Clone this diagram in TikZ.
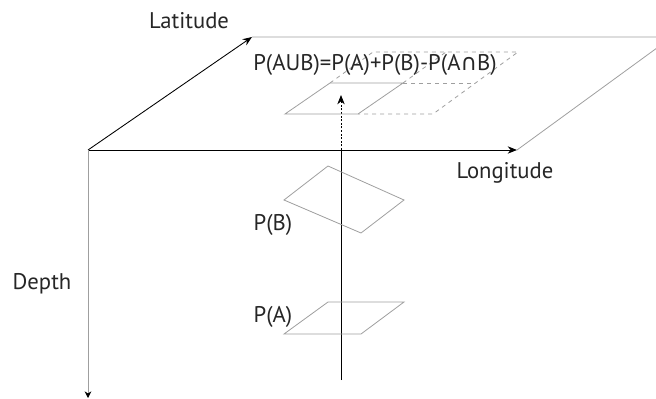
\documentclass[tikz,border=0pt]{standalone}
\usepackage{fontspec}
\setmainfont{PT Sans}
\newfontfamily\symfont{DejaVu Sans}
\usetikzlibrary{arrows.meta}

\begin{document}
\begin{tikzpicture}[x=0.75pt,y=-0.75pt,>={Stealth[length=7pt,width=5.5pt]},
  plane/.style={draw=gray!75,line width=0.6pt},
  axis/.style={->,line width=0.65pt},
  lbl/.style={font=\fontsize{17}{20}\selectfont,text=black!85,inner sep=0pt}]
  \useasboundingbox (0,0) rectangle (656,399);
  \clip (0,0) rectangle (656,399);

  % 原点与平面角点
  \coordinate (O) at (88,150);
  \coordinate (lat) at (252,37);
  \coordinate (lon) at (517,150);
  \coordinate (far) at (672,37);
  \coordinate (dep) at (88,398);

  % 平面边框
  \draw[plane] (lat) -- (far) -- (lon);

  % 坐标轴
  \draw[axis] (O) -- (lat);
  \draw[axis] (O) -- (lon);
  \draw[plane,-{Stealth[length=5pt,width=5pt,color=black]}] (O) -- (dep);

  % 坐标轴标注
  \node[lbl] (latlbl) at (189,21) {Latitude};
  \node[lbl] (lonlbl) at (505,173) {Longitude};
  \node[lbl] (deplbl) at (42,284) {Depth};

  % 竖直测线
  \coordinate (bot) at (341,380);
  \coordinate (top) at (341,150);
  \coordinate (tip) at (341,95);
  \draw[line width=0.65pt] (bot) -- (top);
  \draw[->,line width=0.6pt,dash pattern=on 1.5pt off 1.2pt] (top) -- (tip);

  % P(B) 与 P(A)
  \draw[plane] (328,166) -- (404,200) -- (361,233) -- (284,200) -- cycle;
  \draw[plane] (328,302) -- (404,302) -- (361,334) -- (284,334) -- cycle;
  \node[lbl] (pb) at (273,225) {P(B)};
  \node[lbl] (pa) at (273,317) {P(A)};

  % 平面上的投影
  \draw[plane] (285,114) -- (358,114) -- (403,83) -- (330,83) -- cycle;
  \draw[plane,dashed] (330,83) -- (373,52) -- (518,52) -- (433,114) -- (358,114);
  \draw[plane,dashed] (403,83) -- (475,83);
  \draw[plane,dashed] (403,83) -- (446,52);
  \node[lbl] (union) at (375,65) {P(AUB)=P(A)+P(B)-P(A{\symfont ∩}B)};
\end{tikzpicture}
\end{document}
